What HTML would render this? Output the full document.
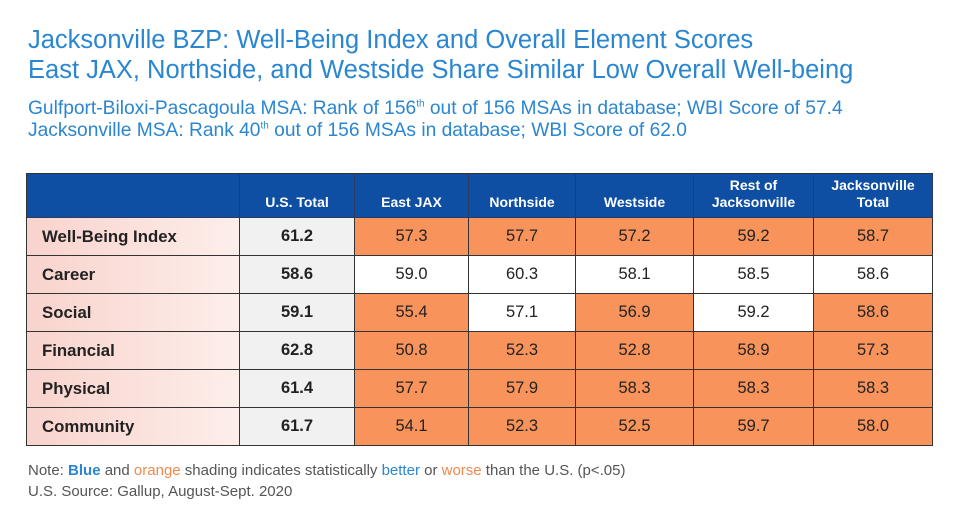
<!DOCTYPE html>
<html><head><meta charset="utf-8"><style>
body{margin:0;width:956px;height:510px;background:#fff;font-family:"Liberation Sans",Arial,sans-serif;position:relative;overflow:hidden}
.t{position:absolute;left:28px;color:#2a86d1;white-space:nowrap}
.c{position:absolute;box-sizing:border-box;border-right:1px solid #333;border-bottom:1px solid #333;display:flex;align-items:center;justify-content:center;font-size:16.5px;color:#222}
.h{background:#0f4fa3;color:#fff;font-weight:bold;font-size:14px;text-align:center;line-height:17px;align-items:flex-end;padding-bottom:6px;border-color:#2a3a60}
.lab{justify-content:flex-start;padding-left:15px;font-weight:bold;font-size:16.8px;background:linear-gradient(90deg,#f9d3cd,#fdeeea)}
.us{background:#f1f1f1;font-weight:bold}
.o{background:#f8945b}
.w{background:#fff}
</style></head><body>
<div class="t" style="top:26px;font-size:25.5px">Jacksonville BZP: Well-Being Index and Overall Element Scores</div>
<div class="t" style="top:56px;font-size:25.5px">East JAX, Northside, and Westside Share Similar Low Overall Well-being</div>
<div class="t" style="top:98px;font-size:19.2px">Gulfport-Biloxi-Pascagoula MSA: Rank of 156<sup style="font-size:10px">th</sup> out of 156 MSAs in database; WBI Score of 57.4</div>
<div class="t" style="top:120px;font-size:19.2px">Jacksonville MSA: Rank 40<sup style="font-size:10px">th</sup> out of 156 MSAs in database; WBI Score of 62.0</div>
<div id="tbl" style="position:absolute;left:26px;top:173px;width:907px;height:273px;border-left:1px solid #333;border-top:1px solid #333;box-sizing:border-box"></div>
<div class="t" style="top:462px;font-size:15px;color:#555">Note: <b style="color:#2a86d1">Blue</b> and <span style="color:#f08a4b">orange</span> shading indicates statistically <span style="color:#2a86d1">better</span> or <span style="color:#f08a4b">worse</span> than the U.S. (p&lt;.05)</div>
<div class="t" style="top:483px;font-size:15px;color:#555">U.S. Source: Gallup, August-Sept. 2020</div>
<script>
const columns=["","U.S. Total","East JAX","Northside","Westside","Rest of<br>Jacksonville","Jacksonville<br>Total"];
const rowsLabels=["Well-Being Index","Career","Social","Financial","Physical","Community"];
const usTotal=["61.2","58.6","59.1","62.8","61.4","61.7"];
const values=[
["57.3","57.7","57.2","59.2","58.7"],
["59.0","60.3","58.1","58.5","58.6"],
["55.4","57.1","56.9","59.2","58.6"],
["50.8","52.3","52.8","58.9","57.3"],
["57.7","57.9","58.3","58.3","58.3"],
["54.1","52.3","52.5","59.7","58.0"]];
const shading=[
["o","o","o","o","o"],
["w","w","w","w","w"],
["o","w","o","w","o"],
["o","o","o","o","o"],
["o","o","o","o","o"],
["o","o","o","o","o"]];
const xs=[0,213,328,442,549,667,787,906];
const headH=44,rowH=38;
const tbl=document.getElementById('tbl');
function cell(x0,x1,y,h,cls,html){const d=document.createElement('div');d.className='c '+cls;d.style.left=xs[x0]+'px';d.style.width=(xs[x1]-xs[x0])+'px';d.style.top=y+'px';d.style.height=h+'px';d.innerHTML=html;tbl.appendChild(d);return d;}
columns.forEach((c,i)=>{const d=cell(i,i+1,0,headH,'h',c);

});
rowsLabels.forEach((r,ri)=>{const y=headH+ri*rowH;
const a=cell(0,1,y,rowH,'lab',r);


const u=cell(1,2,y,rowH,'us',usTotal[ri]);


values[ri].forEach((v,ci)=>{const d=cell(ci+2,ci+3,y,rowH,shading[ri][ci],v);

});});
</script>
</body></html>
